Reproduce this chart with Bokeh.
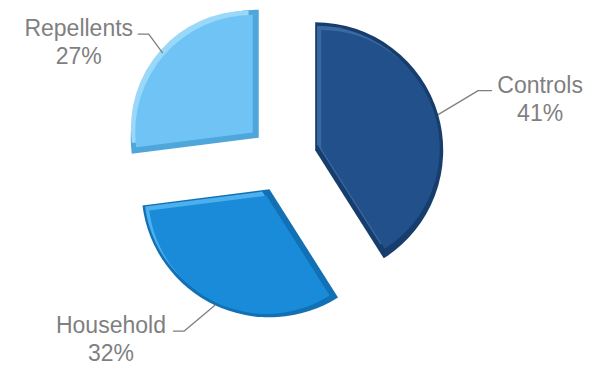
import numpy as np
from bokeh.plotting import figure
from bokeh.models import Range1d
from bokeh.embed import file_html
from bokeh.resources import INLINE
from bokeh.core.properties import value

# ---- data ----
categories = ["Controls", "Household", "Repellents"]
shares = [41, 32, 27]
pct_labels = [f"{s}%" for s in shares]

# ---- styles ----
colors_main = ["#21508A", "#1A8BD8", "#6FC4F5"]
colors_dark = ["#163D6C", "#1270B4", "#4FA6DA"]
colors_light = ["#3A68A0", "#4CB0EE", "#9AD8FA"]
label_color = "#7F7F7F"
font = value("Liberation Sans")

# ---- layout (pixels, y up) ----
W, H = 594, 365
cx, cy = 283, -159      # pie centre
R = 128                 # radius
explode = 33            # explosion distance
bevel = 6

knee_dx = [40, -31, -14]
knee_dy = [24, -26, 19]
tail_dx = [14, -11, -11]
text_dx = [48, -62, -59]
name_dy = [6, 6.5, 6]
line_gap = 28

p = figure(width=W, height=H, x_range=Range1d(0, W), y_range=Range1d(-H, 0),
           output_backend="svg", toolbar_location=None, min_border=0,
           x_axis_location=None, y_axis_location=None)
p.grid.visible = False
p.outline_line_color = None
p.background_fill_color = "white"
p.border_fill_color = "white"

frac = np.array(shares, dtype=float) / sum(shares)
cum = np.concatenate([[0.0], np.cumsum(frac)])
a_end = np.radians(90 - 360 * cum[:-1])
a_start = np.radians(90 - 360 * cum[1:])
mid = (a_start + a_end) / 2
half = (a_end - a_start) / 2

ax = cx + explode * np.cos(mid)
ay = cy + explode * np.sin(mid)

# outer (dark rim)
p.wedge(x=ax, y=ay, radius=R, start_angle=a_start, end_angle=a_end,
        fill_color=colors_dark, line_color=None)

# inset face geometry
s = bevel / np.sin(half)
ix = ax + s * np.cos(mid)
iy = ay + s * np.sin(mid)
ir = R - bevel - s * 0.55

# light highlight (inset shifted up-left)
sh = bevel * 0.7
p.wedge(x=ix - sh, y=iy + sh, radius=ir, start_angle=a_start, end_angle=a_end,
        fill_color=colors_light, line_color=None)
# main face
p.wedge(x=ix, y=iy, radius=ir, start_angle=a_start, end_angle=a_end,
        fill_color=colors_main, line_color=None)

# leader lines
px = ax + R * np.cos(mid)
py = ay + R * np.sin(mid)
kx = px + np.array(knee_dx)
ky = py + np.array(knee_dy)
ex = kx + np.array(tail_dx)
xs = [[px[i], kx[i], ex[i]] for i in range(3)]
ys = [[py[i], ky[i], ky[i]] for i in range(3)]
p.multi_line(xs=xs, ys=ys, line_color=label_color, line_width=1.3)

tx = ex + np.array(text_dx)
ty = ky + np.array(name_dy)
p.text(x=tx, y=ty, text=categories, text_align="center", text_baseline="alphabetic",
       text_font=font, text_font_size="23px", text_color=label_color)
p.text(x=tx, y=ty - line_gap, text=pct_labels, text_align="center", text_baseline="alphabetic",
       text_font=font, text_font_size="23px", text_color=label_color)

open("out.html", "w").write(file_html(p, INLINE))
